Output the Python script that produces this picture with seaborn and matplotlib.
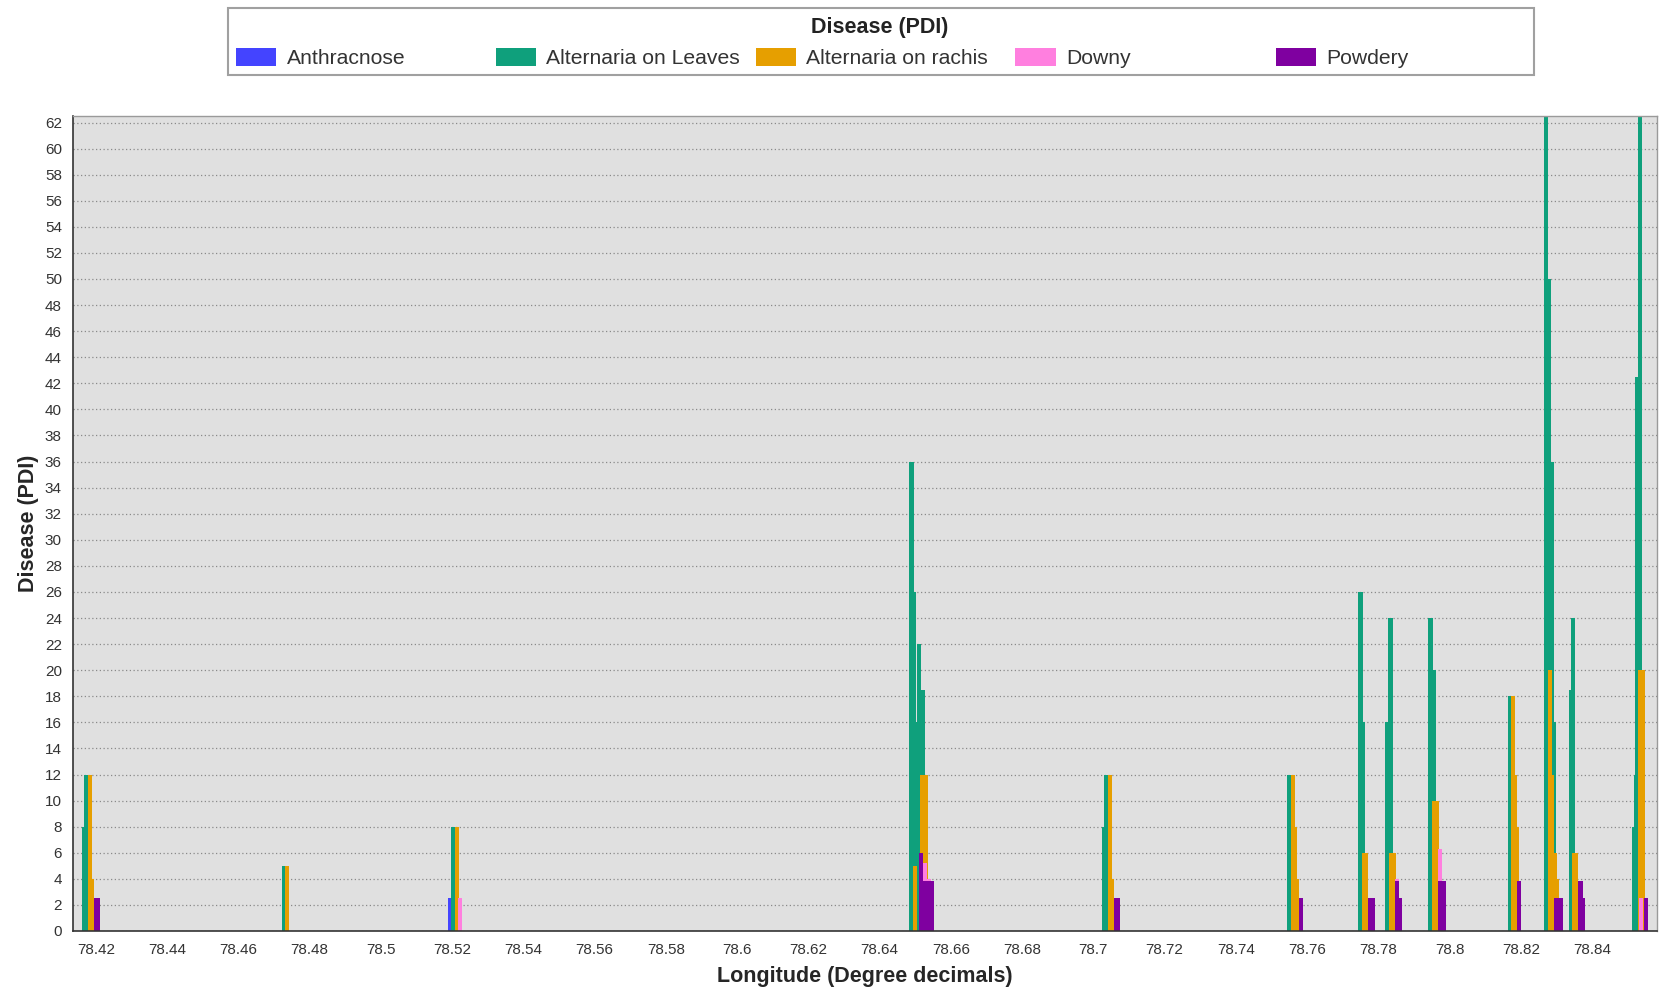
import matplotlib
matplotlib.use("Agg")
import matplotlib.pyplot as plt
from matplotlib.patches import Rectangle
import seaborn as sns

# sampling points (longitude of each plot)
site_lon = [78.41677, 78.41733, 78.41789, 78.47278, 78.52037,
            78.64894, 78.64951, 78.65021, 78.65105, 78.65203,
            78.70299, 78.70369, 78.70425, 78.75506, 78.75562, 78.75618,
            78.77500, 78.77570, 78.78258, 78.78342, 78.79465, 78.79563,
            78.81686, 78.81753, 78.81809, 78.82719, 78.82786, 78.82862, 78.82932,
            78.83406, 78.83471, 78.85186, 78.85234, 78.85268, 78.85335]

# disease values (PDI) per site
anthracnose = [0, 0, 0, 0, 2.5,
               0, 0, 0, 0, 0,
               0, 0, 0, 0, 0, 0,
               0, 0, 0, 0, 0, 0,
               0, 0, 0, 0, 0, 0, 0,
               0, 0, 0, 0, 0, 0]
alternaria_leaves = [8, 12, 0, 5, 8,
                     36, 26, 16, 22, 18.5,
                     8, 12, 0, 12, 8, 0,
                     26, 16, 16, 24, 24, 20,
                     18, 0, 0, 62.5, 50, 36, 16,
                     18.5, 24, 8, 12, 42.5, 62.5]
alternaria_rachis = [0, 12, 4, 5, 8,
                     5, 0, 0, 12, 12,
                     0, 12, 4, 12, 8, 4,
                     6, 6, 6, 6, 10, 10,
                     18, 12, 8, 20, 12, 6, 4,
                     6, 6, 0, 0, 20, 20]
downy = [0, 0, 0, 0, 2.5,
         0, 0, 0, 5.2, 4,
         0, 0, 0, 0, 0, 0,
         0, 0, 0, 4, 0, 6.3,
         0, 0, 0, 0, 0, 0, 0,
         0, 0, 2.5, 0, 0, 0]
powdery = [0, 2.5, 2.5, 0, 0,
           6, 3.8, 3.8, 3.8, 3.8,
           0, 2.5, 2.5, 0, 2.5, 0,
           2.5, 2.5, 3.8, 2.5, 3.8, 3.8,
           3.8, 0, 0, 2.5, 2.5, 2.5, 0,
           3.8, 2.5, 0, 2.5, 0, 0]

series_names = ["Anthracnose", "Alternaria on Leaves", "Alternaria on rachis", "Downy", "Powdery"]
series_vals = [anthracnose, alternaria_leaves, alternaria_rachis, downy, powdery]
colors = ["#4444ff", "#0fa07c", "#e69f00", "#ff7fdf", "#7f00a0"]
x_ticks = [78.42 + 0.02 * i for i in range(22)]
y_ticks = list(range(0, 63, 2))

W, H = 1663, 990

sns.set_theme(style="white", rc={"axes.facecolor": "#e0e0e0"})
plt.rcParams['font.family'] = ['Liberation Sans', 'DejaVu Sans']

fig = plt.figure(figsize=(W / 100, H / 100), dpi=100)
ax = fig.add_axes([73 / W, 59 / H, 1584 / W, 815 / H])

# bars of each disease sit side by side around the site longitude
step = 0.0009
bar_w = 0.00115
for k, (vals, col) in enumerate(zip(series_vals, colors)):
    xs = [lon + (k - 1) * step for lon in site_lon]
    ax.bar(xs, vals, width=bar_w, color=col, linewidth=0, zorder=2)

ax.set_xlim(78.41354, 78.85824)
ax.set_ylim(0, 62.5)
ax.set_xticks(x_ticks)
ax.set_xticklabels([f"{round(v, 2):g}" for v in x_ticks])
ax.set_yticks(y_ticks)
ax.yaxis.grid(True, color="#8a8a8a", linestyle=(0, (1, 2)), linewidth=0.9, zorder=1)
ax.xaxis.grid(False)
ax.tick_params(axis="both", direction="out", length=5, width=1, color="#333333",
               labelsize=11, labelcolor="#333333", pad=3)
ax.tick_params(axis="x", length=4, pad=5)
for side in ["top", "right"]:
    ax.spines[side].set_color("#9a9a9a")
    ax.spines[side].set_linewidth(1)
for side in ["left", "bottom"]:
    ax.spines[side].set_color("#333333")
    ax.spines[side].set_linewidth(1.2)

ax.set_xlabel("Longitude (Degree decimals)", fontsize=15.5, fontweight="bold", labelpad=6)
ax.set_ylabel("Disease (PDI)", fontsize=15.5, fontweight="bold", labelpad=4)

# legend box drawn by hand so the entries are evenly spaced
fig.add_artist(Rectangle((228 / W, 1 - 75 / H), (1534 - 228) / W, (75 - 8.5) / H,
                         transform=fig.transFigure, facecolor="white",
                         edgecolor="#a0a0a0", linewidth=1.5))
fig.text(880 / W, 1 - 27 / H, "Disease (PDI)", ha="center", va="center",
         fontsize=15.5, fontweight="bold", color="#222222")
for i, (name, col) in enumerate(zip(series_names, colors)):
    px = 235.5 + 260 * i
    fig.add_artist(Rectangle((px / W, 1 - 66 / H), 40 / W, 18 / H,
                             transform=fig.transFigure, facecolor=col, linewidth=0))
    fig.text((px + 51) / W, 1 - 58 / H, name, ha="left", va="center",
             fontsize=15.2, color="#333333")

fig.savefig("out.png", dpi=100)
